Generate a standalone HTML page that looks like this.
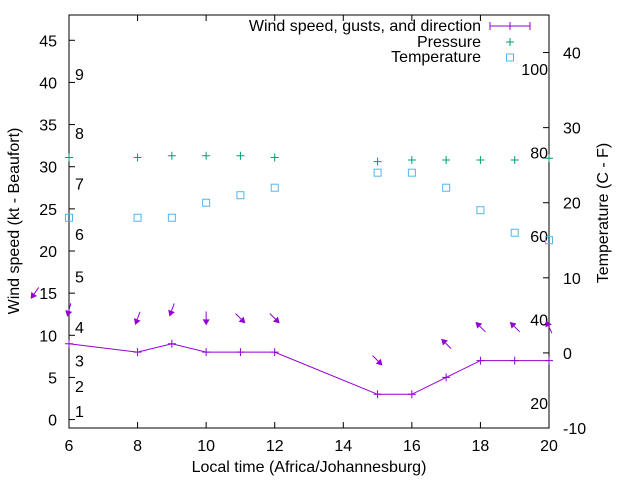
<!DOCTYPE html>
<html><head><meta charset="utf-8"><style>
body{margin:0;background:#fff}
svg{display:block;font-family:"Liberation Sans",sans-serif}
</style></head><body>
<svg id="chart" width="640" height="480" xmlns="http://www.w3.org/2000/svg"></svg>
<script>
const hours=[6,8,9,10,11,12,15,16,17,18,19,20];
const windKt=[9,8,9,8,8,8,3,3,5,7,7,7];
const pressure=[31.1,31.1,31.3,31.3,31.3,31.1,30.6,30.8,30.8,30.8,30.8,31.0];
const tempC=[18,18,18,20,21,22,24,24,22,19,16,15];
const dirHours=[5,6,8,9,10,11,12,15,17,18,19,20];
const dirSpeed=[11,9,8,9,8,8,8,3,5,7,7,7];
const dirFrom=[35,15,20,20,0,315,315,315,135,135,135,155];
const xTicks=[6,8,10,12,14,16,18,20];
const yTicks=[0,5,10,15,20,25,30,35,40,45];
const y2Ticks=[-10,0,10,20,30,40];
const fTicks=[20,40,60,80,100];
const beaufortKt=[1,4,7,11,17,22,28,34,41];
const beaufortLbl=["1","2","3","4","5","6","7","8","9"];

const L=69,R=549,T=15,B=428;
const X=h=>L+(h-6)/(20-6)*(R-L);
const Y=v=>B-(v+1)/49*(B-T);
const Y2=c=>B-(c+10)/55*(B-T);
const svg=document.getElementById('chart');
const NS='http://www.w3.org/2000/svg';
function mk(tag,attrs,parent){const e=document.createElementNS(NS,tag);for(const k in attrs)e.setAttribute(k,attrs[k]);(parent||svg).appendChild(e);return e;}
function txt(s,x,y,anchor,name,extra){const t=mk('text',Object.assign({x:x,y:y,'text-anchor':anchor,'font-size':16,fill:'#000'},extra||{}));t.textContent=s;


return t;}

// frame
const fr=mk('rect',{x:L,y:T,width:R-L,height:B-T,fill:'none',stroke:'#000','stroke-width':1});



xTicks.forEach(h=>{
  const g=mk('path',{d:`M${X(h)},${B}v-6M${X(h)},${T}v6`,stroke:'#000'});
  
  
  txt(String(h),X(h),451,'middle','x-tick-label');
});
yTicks.forEach(v=>{
  const g=mk('path',{d:`M${L},${Y(v)}h6`,stroke:'#000'});
  
  
  txt(String(v),57,Y(v)+6,'end','y-tick-label');
});
y2Ticks.forEach(c=>{
  const g=mk('path',{d:`M${R},${Y2(c)}h-6`,stroke:'#000'});
  
  
  txt(String(c),563,Y2(c)+6,'start','y2-tick-label');
});
fTicks.forEach(f=>{
  txt(String(f),548,Y2((f-32)*5/9)+6,'end','fahrenheit-label');
});
beaufortKt.forEach((k,i)=>{
  txt(beaufortLbl[i],75,Y(k)+6,'start','beaufort-label');
});

// wind line
const pts=hours.map((h,i)=>X(h)+','+Y(windKt[i])).join(' ');
const wl=mk('polyline',{points:pts,fill:'none',stroke:'#9400d3','stroke-width':1});


hours.forEach((h,i)=>{
  const p=mk('path',{d:`M${X(h)},${Y(windKt[i])-4}v8M${X(h)-4},${Y(windKt[i])}h8`,stroke:'#9400d3'});
  
  
});
// arrows
dirHours.forEach((h,i)=>{
  const a=dirFrom[i]*Math.PI/180;
  const dx=-Math.sin(a),dy=Math.cos(a);
  const cx=X(h),cy=Y(dirSpeed[i]+4),len=14;
  const x1=cx-dx*len/2,y1=cy-dy*len/2,x2=cx+dx*len/2,y2=cy+dy*len/2;
  const px=-dy,py=dx;
  const hb=6,hw=3.5;
  const bx=x2-dx*hb,by=y2-dy*hb;
  const g=mk('g',{});
  
  
  mk('line',{x1:x1,y1:y1,x2:bx,y2:by,stroke:'#9400d3','stroke-width':1},g);
  mk('polygon',{points:`${x2},${y2} ${bx+px*hw},${by+py*hw} ${bx-px*hw},${by-py*hw}`,fill:'#9400d3'},g);
});
// pressure
hours.forEach((h,i)=>{
  const p=mk('path',{d:`M${X(h)},${Y(pressure[i])-4}v8M${X(h)-4},${Y(pressure[i])}h8`,stroke:'#009e73'});
  
  
});
// temperature
hours.forEach((h,i)=>{
  const r=mk('rect',{x:X(h)-3.5,y:Y2(tempC[i])-3.5,width:7,height:7,fill:'none',stroke:'#56b4e9'});
  
  
});

// legend
txt('Wind speed, gusts, and direction',481,31,'end','legend-wind-label');
const lw=mk('path',{d:'M490,26h40M490,22v8M530,22v8M510,22v8',stroke:'#9400d3'});


txt('Pressure',481,47,'end','legend-pressure-label');
const lp=mk('path',{d:'M510,38v8M506,42h8',stroke:'#009e73'});


txt('Temperature',481,62,'end','legend-temperature-label');
const lt=mk('rect',{x:506.5,y:54,width:7,height:7,fill:'none',stroke:'#56b4e9'});



// axis titles
txt('Local time (Africa/Johannesburg)',309,472,'middle','x-axis-title');
txt('Wind speed (kt - Beaufort)',0,0,'middle','y-axis-title',{transform:'translate(19,221) rotate(-90)'});
txt('Temperature (C - F)',0,0,'middle','y2-axis-title',{transform:'translate(608,213) rotate(-90)'});
</script>
</body></html>
